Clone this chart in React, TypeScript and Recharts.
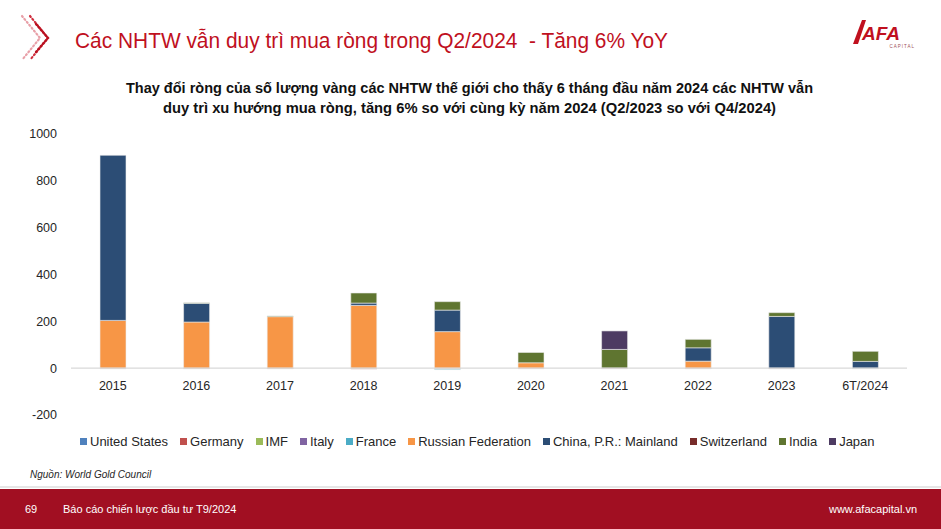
import React from "react";
import { BarChart, Bar, XAxis, YAxis, ReferenceLine } from "recharts";

const FONT = "'Liberation Sans', Arial, sans-serif";

const categories = ["2015", "2016", "2017", "2018", "2019", "2020", "2021", "2022", "2023", "6T/2024"];
const unitedStates = [0, 0, 0, 0, 0, 0, 0, 0, 0, 0];
const germany = [-3, -3, -3, -4, -2, -3, -3, -3, -3, 0];
const imf = [0, 0, 0, 0, 0, 0, 0, 0, 0, 0];
const italy = [0, 0, 0, 0, 0, 0, 0, 0, 0, 0];
const france = [0, 0, 0, 0, -4, 0, 0, 0, 0, -3];
const russia = [204, 197, 220, 268, 156, 23, 0, 30, 0, 0];
const china = [705, 80, 0, 10, 92, 0, 0, 57, 221, 29];
const switzerland = [0, 0, 0, 0, 0, 0, 0, 0, 0, 0];
const india = [0, 2, 3, 43, 36, 44, 80, 36, 16, 43];
const japan = [0, 0, 0, 0, 0, 0, 79, 0, 0, 0];

const yTicks = [-200, 0, 200, 400, 600, 800, 1000];
const Y_MIN = -200;
const Y_MAX = 1000;

const series = [
  { key: "us", name: "United States", color: "#4F81BD", values: unitedStates },
  { key: "de", name: "Germany", color: "#C0504D", values: germany },
  { key: "imf", name: "IMF", color: "#9BBB59", values: imf },
  { key: "it", name: "Italy", color: "#8064A2", values: italy },
  { key: "fr", name: "France", color: "#4BACC6", values: france },
  { key: "ru", name: "Russian Federation", color: "#F79646", values: russia },
  { key: "cn", name: "China, P.R.: Mainland", color: "#2C4D75", values: china },
  { key: "ch", name: "Switzerland", color: "#772C2A", values: switzerland },
  { key: "in", name: "India", color: "#5F7530", values: india },
  { key: "jp", name: "Japan", color: "#4D3B62", values: japan },
];

const CHART_W = 941;
const CHART_H = 529;
const M_TOP = 134;
const M_BOTTOM_TOTAL = 114;
const X_AXIS_H = 20;
const PLOT_H = CHART_H - M_TOP - M_BOTTOM_TOTAL;
const ZERO_FROM_BOTTOM = (PLOT_H * (0 - Y_MIN)) / (Y_MAX - Y_MIN);

const XTick = (props: any) => {
  const { x, y, payload } = props;
  return (
    <text
      x={x}
      y={y - ZERO_FROM_BOTTOM + 18}
      textAnchor="middle"
      dominantBaseline="central"
      fill="#262626"
      fontSize={12.5}
      fontFamily={FONT}
    >
      {payload.value}
    </text>
  );
};

export default function App() {
  const data = categories.map((c, i) => {
    const row: any = { category: c };
    series.forEach((s) => {
      row[s.key] = s.values[i];
    });
    return row;
  });

  return (
    <div
      style={{
        position: "absolute",
        left: 0,
        top: 0,
        width: 941,
        height: 529,
        background: "#fff",
        overflow: "hidden",
        fontFamily: FONT,
      }}
    >
      <svg width={941} height={529} style={{ position: "absolute", left: 0, top: 0 }}>
        {/* decorative chevrons */}
        <polyline points="22,16 40,38 22,60" fill="none" stroke="#E8A0A8" strokeWidth={2.2} strokeDasharray="1.2 2.6" strokeLinecap="round" />
        <polyline points="30,16 48,38 30,60" fill="none" stroke="#D0303F" strokeWidth={2.2} strokeDasharray="1.2 2.6" strokeLinecap="round" />
        <polyline points="36,24 48,38 36,52" fill="none" stroke="#B8101F" strokeWidth={2.4} strokeDasharray="1.2 2.4" strokeLinecap="round" />
        {/* title */}
        <text
          x={75}
          y={48}
          fill="#C0101E"
          fontSize={22}
          fontFamily={FONT}
          textLength={593}
          lengthAdjust="spacingAndGlyphs"
          style={{ whiteSpace: "pre" }}
        >
          {"Các NHTW vẫn duy trì mua ròng trong Q2/2024  - Tăng 6% YoY"}
        </text>
        {/* logo */}
        <path d="M853,44 L862,20 L866,20 L858,44 Z" fill="#C0101E" />
        <text x={862} y={40} fill="#C0101E" fontSize={19} fontWeight="bold" fontStyle="italic" fontFamily={FONT}>
          AFA
        </text>
        <text x={915} y={48} fill="#A05058" fontSize={4.5} textAnchor="end" fontFamily={FONT} letterSpacing={1}>
          CAPITAL
        </text>
        {/* subtitle */}
        <text x={126} y={93} fill="#111" fontSize={14} fontWeight="bold" fontFamily={FONT} textLength={687} lengthAdjust="spacingAndGlyphs">
          Thay đổi ròng của số lượng vàng các NHTW thế giới cho thấy 6 tháng đầu năm 2024 các NHTW vẫn
        </text>
        <text x={163} y={113} fill="#111" fontSize={14} fontWeight="bold" fontFamily={FONT} textLength={613} lengthAdjust="spacingAndGlyphs">
          duy trì xu hướng mua ròng, tăng 6% so với cùng kỳ năm 2024 (Q2/2023 so với Q4/2024)
        </text>
        {/* source */}
        <text x={30} y={478} fill="#262626" fontSize={10} fontStyle="italic" fontFamily={FONT}>
          Nguồn: World Gold Council
        </text>
        {/* footer */}
        <rect x={0} y={486} width={941} height={2} fill="#E6E6E6" />
        <rect x={0} y={489} width={941} height={40} fill="#A10F22" />
        <text x={25} y={513} fill="#fff" fontSize={11} fontFamily={FONT}>69</text>
        <text x={63} y={513} fill="#fff" fontSize={11} fontFamily={FONT}>
          Báo cáo chiến lược đầu tư T9/2024
        </text>
        <text x={917} y={513} fill="#fff" fontSize={11} textAnchor="end" fontFamily={FONT}>
          www.afacapital.vn
        </text>
      </svg>

      <div style={{ position: "absolute", left: 0, top: 0 }}>
        <BarChart
          width={CHART_W}
          height={CHART_H}
          data={data}
          margin={{ top: M_TOP, right: 34, left: 8, bottom: M_BOTTOM_TOTAL - X_AXIS_H }}
          stackOffset="sign"
          barSize={26}
        >
          <XAxis
            dataKey="category"
            axisLine={false}
            tickLine={false}
            tickSize={0}
            tickMargin={0}
            height={X_AXIS_H}
            interval={0}
            tick={<XTick />}
          />
          <YAxis
            domain={[Y_MIN, Y_MAX]}
            ticks={yTicks}
            width={63}
            axisLine={false}
            tickLine={false}
            tickSize={6}
            tickMargin={8}
            allowDataOverflow
            tick={{ fill: "#262626", fontSize: 12.5, fontFamily: FONT }}
          />
          <ReferenceLine y={0} stroke="#D9D9D9" strokeWidth={1.3} />
          {series.map((s) => (
            <Bar
              key={s.key}
              dataKey={s.key}
              name={s.name}
              stackId="a"
              fill={s.color}
              stroke="#EDEDED"
              strokeWidth={0.6}
              isAnimationActive={false}
            />
          ))}
        </BarChart>
      </div>

      <div
        style={{
          position: "absolute",
          left: 80,
          top: 433,
          height: 16,
          display: "flex",
          alignItems: "center",
          whiteSpace: "nowrap",
          fontSize: 13,
          color: "#262626",
          fontFamily: FONT,
        }}
      >
        {series.map((s) => (
          <div key={s.key} style={{ display: "flex", alignItems: "center", marginRight: 12 }}>
            <span style={{ display: "inline-block", width: 7, height: 7, background: s.color, marginRight: 3 }} />
            <span>{s.name}</span>
          </div>
        ))}
      </div>
    </div>
  );
}
